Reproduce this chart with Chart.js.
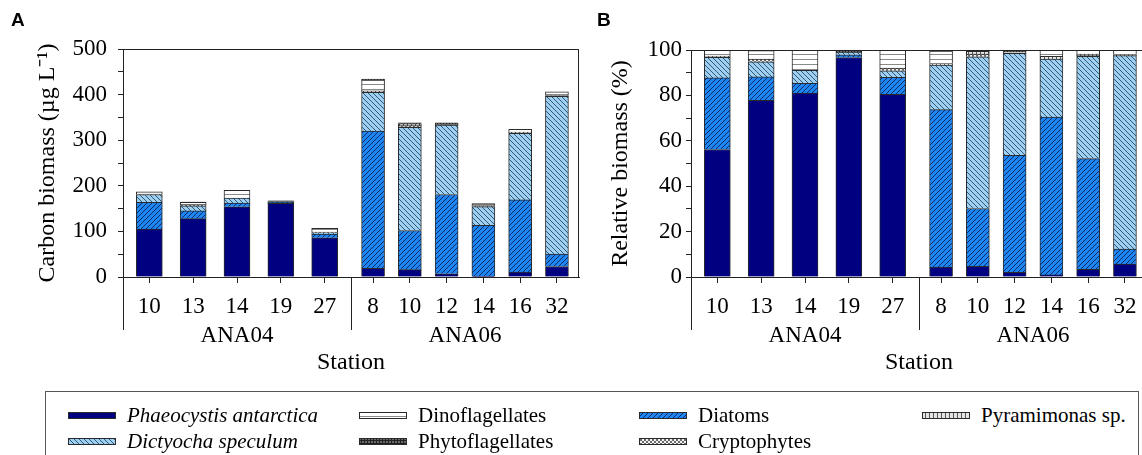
<!DOCTYPE html>
<html>
<head>
<meta charset="utf-8">
<script src="https://cdn.jsdelivr.net/npm/chart.js@4"></script>
<style>
  html, body { margin: 0; padding: 0; background: #fff; overflow: hidden; width: 1142px; height: 455px; }
  canvas { position: absolute; top: 0; }
  #chartA { left: 0; }
  #chartB { left: 585px; }
  .panel { position: absolute; top: 9px; font: bold 19px "Liberation Sans", Arial, sans-serif; color: #000; }
  #legend { position: absolute; left: 45px; top: 391px; width: 1092px; height: 90px; border: 1px solid #555; font: 21px "Liberation Serif", serif; color: #000; }
  .item { position: absolute; height: 26px; display: flex; align-items: center; white-space: nowrap; }
  .item canvas { position: static; margin-right: 11px; }
</style>
</head>
<body>
<canvas id="chartA" width="585" height="385"></canvas>
<canvas id="chartB" width="565" height="385"></canvas>
<div class="panel" style="left:11px">A</div>
<div class="panel" style="left:597px">B</div>
<div id="legend"></div>
<script>
// stations per cruise
const groups = ["ANA04", "ANA06"];
const stations04 = ["10", "13", "14", "19", "27"];
const stations06 = ["8", "10", "12", "14", "16", "32"];

// carbon biomass (ug C L-1), ANA04 stations then ANA06 stations
const phaeocystis     = [105, 128, 154, 161.5, 86, 19, 16, 7, 1.5, 11, 23];
const diatoms         = [59, 17, 8, 2, 8, 301, 86, 174, 112, 158, 27];
const dictyocha       = [17, 11, 11, 2, 3, 85, 226, 152, 41, 146, 346];
const cryptophytes    = [0, 2, 0, 0, 1.3, 0, 4, 0, 0, 1, 0];
const pyramimonas     = [1, 0, 0, 0, 0, 3, 4, 0, 2, 2, 2];
const dinoflagellates = [5, 6, 17, 0, 8.5, 24, 0, 2, 4.5, 6, 8];
const phytoflagellates = [0, 0.5, 0, 1.5, 0, 2, 2, 3, 0, 0, 0];

// stacking order bottom -> top
const taxa = ["Phaeocystis antarctica", "Diatoms", "Dictyocha speculum", "Cryptophytes", "Pyramimonas sp.", "Dinoflagellates", "Phytoflagellates"];
const series = [phaeocystis, diatoms, dictyocha, cryptophytes, pyramimonas, dinoflagellates, phytoflagellates];
const italic = [true, false, true, false, false, false, false];
const legendOrder = [0, 2, 5, 6, 1, 3, 4];

function hatch(bg, line, size, kind) {
  const c = document.createElement("canvas");
  c.width = c.height = size;
  const g = c.getContext("2d");
  g.fillStyle = bg;
  g.fillRect(0, 0, size, size);
  if (kind) {
    g.strokeStyle = line;
    g.lineWidth = 1;
    g.beginPath();
    if (kind === "/" || kind === "x") {
      g.moveTo(0, size); g.lineTo(size, 0);
      g.moveTo(-1, 1); g.lineTo(1, -1);
      g.moveTo(size - 1, size + 1); g.lineTo(size + 1, size - 1);
    }
    if (kind === "\\" || kind === "x") {
      g.moveTo(0, 0); g.lineTo(size, size);
      g.moveTo(-1, size - 1); g.lineTo(1, size + 1);
      g.moveTo(size - 1, -1); g.lineTo(size + 1, 1);
    }
    if (kind === "-" || kind === "+") { g.moveTo(0, size - 0.5); g.lineTo(size, size - 0.5); }
    if (kind === "|" || kind === "+") { g.moveTo(size - 0.5, 0); g.lineTo(size - 0.5, size); }
    g.stroke();
  }
  return g.createPattern(c, "repeat");
}

const fills = [
  "#000080",
  hatch("#1e86f2", "#0d2a66", 5, "/"),
  hatch("#9fd0f2", "#2f5878", 5, "\\"),
  hatch("#f2f2f2", "#6a6a6a", 4, "x"),
  hatch("#e6e6e6", "#555555", 4, "|"),
  hatch("#ffffff", "#8a8a8a", 5, "-"),
  hatch("#6a6a6a", "#222222", 3, "+")
];

const stationLabels = stations04.concat(stations06);
// station centres on a 0..1 axis: each cruise takes one half
const positions = [];
[stations04, stations06].forEach((st, g) => {
  const step = 0.5 / (st.length + 0.2);
  st.forEach((s, i) => positions.push(g * 0.5 + step * (0.6 + i)));
});
const groupIdx = [[0, 5], [5, 11]];
const barWidth = [26, 23];

const totals = stationLabels.map((s, i) => series.reduce((a, v) => a + v[i], 0));
const relative = series.map(v => v.map((x, i) => x / totals[i] * 100));

function buildDatasets(values) {
  const ds = [];
  values.forEach((vals, t) => {
    groupIdx.forEach(([a, b], g) => {
      ds.push({
        label: taxa[t],
        data: vals.slice(a, b).map((y, k) => ({ x: positions[a + k], y: y })),
        backgroundColor: fills[t],
        borderColor: "#2a2a2a",
        borderWidth: 1,
        barThickness: barWidth[g],
        grouped: false
      });
    });
  });
  return ds;
}

const tickFont = { family: "Liberation Serif", size: 23 };
const titleFont = { family: "Liberation Serif", size: 24 };

const framePlugin = {
  id: "frame",
  afterDraw(chart) {
    const { ctx, chartArea: a, scales: { x } } = chart;
    ctx.save();
    ctx.strokeStyle = "#222";
    ctx.lineWidth = 1;
    ctx.beginPath();
    ctx.moveTo(a.left, a.top + 0.5);
    ctx.lineTo(a.right, a.top + 0.5);
    ctx.moveTo(a.right - 0.5, a.top);
    ctx.lineTo(a.right - 0.5, a.bottom);
    [0, 0.5].forEach(v => {
      const px = Math.round(x.getPixelForValue(v)) + 0.5;
      ctx.moveTo(px, a.bottom);
      ctx.lineTo(px, a.bottom + 53);
    });
    ctx.stroke();
    ctx.restore();
  }
};

function makeChart(id, values, opt) {
  return new Chart(document.getElementById(id), {
    type: "bar",
    data: { datasets: buildDatasets(values) },
    options: {
      responsive: false,
      animation: false,
      layout: { padding: { top: opt.top, right: opt.right, left: 0, bottom: 0 } },
      plugins: { legend: { display: false }, tooltip: { enabled: false } },
      scales: {
        x: {
          type: "linear",
          min: 0,
          max: 1,
          offset: false,
          weight: 0,
          afterBuildTicks: s => { s.ticks = positions.map(v => ({ value: v })); },
          afterFit: s => { s.height = 40; },
          ticks: { autoSkip: false, maxRotation: 0, minRotation: 0, padding: 10, color: "#000", font: tickFont,
                   callback: (v, i) => stationLabels[i] },
          grid: { drawOnChartArea: false, offset: false, tickLength: 6, color: "#222" },
          border: { color: "#222" }
        },
        x2: {
          type: "linear",
          position: "bottom",
          min: 0,
          max: 1,
          offset: false,
          weight: 1,
          afterBuildTicks: s => { s.ticks = [0.25, 0.75].map(v => ({ value: v })); },
          afterFit: s => { s.height = 68; },
          ticks: { autoSkip: false, maxRotation: 0, minRotation: 0, padding: 5, color: "#000", font: tickFont,
                   callback: (v, i) => groups[i] },
          grid: { display: false, drawTicks: false, offset: false },
          border: { display: false },
          title: { display: true, text: "Station", color: "#000", font: titleFont, padding: { top: 0, bottom: 8 } }
        },
        y: {
          stacked: true,
          min: 0,
          max: opt.max,
          afterFit: s => { s.width = opt.yWidth; },
          ticks: { stepSize: opt.max / 10, autoSkip: false, padding: opt.tickPad, color: "#000", font: tickFont,
                   callback: v => (v % (opt.max / 5) === 0 ? v : "") },
          grid: { drawOnChartArea: false, tickLength: 5, color: "#222" },
          border: { color: "#222" },
          title: { display: true, text: opt.title, color: "#000", font: titleFont, padding: { top: opt.titlePad, bottom: 0 } }
        }
      }
    },
    plugins: [framePlugin]
  });
}

makeChart("chartA", series, { max: 500, top: 49, right: 6, yWidth: 123, tickPad: 11, titlePad: 33, title: "Carbon biomass (µg L⁻¹)" });
makeChart("chartB", relative, { max: 100, top: 50, right: 3, yWidth: 106, tickPad: 4, titlePad: 21, title: "Relative biomass (%)" });

// legend box shared by both panels
const legend = document.getElementById("legend");
const colLeft = [22, 313, 593, 876];
legendOrder.forEach((t, k) => {
  const item = document.createElement("div");
  item.className = "item";
  item.style.left = colLeft[Math.floor(k / 2)] + "px";
  item.style.top = (10 + (k % 2) * 26) + "px";
  const sw = document.createElement("canvas");
  sw.width = 48; sw.height = 7;
  const g = sw.getContext("2d");
  g.fillStyle = fills[t];
  g.fillRect(0, 0, 48, 7);
  g.strokeStyle = "#2a2a2a";
  g.strokeRect(0.5, 0.5, 47, 6);
  const label = document.createElement("span");
  label.textContent = taxa[t];
  if (italic[t]) label.style.fontStyle = "italic";
  item.appendChild(sw);
  item.appendChild(label);
  legend.appendChild(item);
});
</script>
</body>
</html>
